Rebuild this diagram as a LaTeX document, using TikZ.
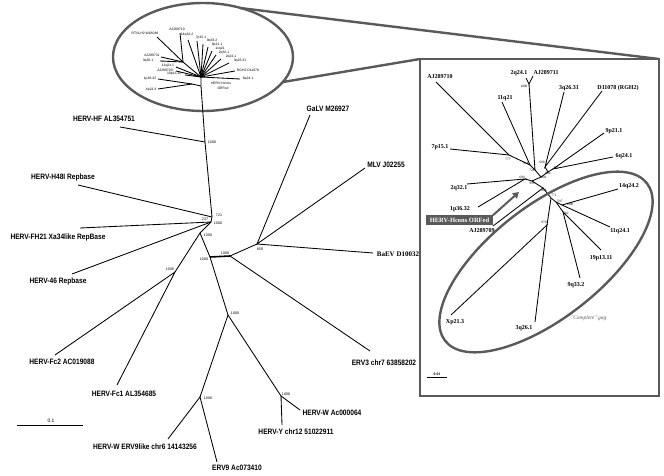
\documentclass[tikz,border=0pt]{standalone}
\usepackage{fontspec}
\newfontfamily\treesf[FakeStretch=0.85]{Liberation Sans}
\newfontfamily\minisf{Liberation Sans}
\newfontfamily\treerm{Liberation Serif}
\usetikzlibrary{%
  arrows.meta,% Triangle tip for the pointer
  calc,%
}
\definecolor{framegray}{HTML}{5A5A5A}
\tikzset{
  branch/.style={line width=0.85pt},
  thickbranch/.style={line width=1.6pt},
  taxon/.style={font=\treesf\bfseries\fontsize{7.8}{9}\selectfont, inner sep=0pt},
  boot/.style={font=\minisf\fontsize{3.6}{4}\selectfont, inner sep=0pt},
  minilab/.style={font=\minisf\fontsize{3.4}{4}\selectfont, inner sep=0pt},
  chrom/.style={font=\treerm\bfseries\fontsize{6}{7}\selectfont, inner sep=0pt},
  iboot/.style={font=\treerm\fontsize{3.4}{4}\selectfont, inner sep=0pt},
  framed/.style={draw=framegray, line width=2.4pt},
  consbox/.style={fill=framegray, text=white, font=\treerm\bfseries\fontsize{6.5}{7}\selectfont,
    inner xsep=3.5pt, inner ysep=2.2pt},
  pointer/.style={draw=framegray, line width=2pt, -{Triangle[length=6pt,width=7pt]}},
}
\begin{document}
\begin{tikzpicture}[x=1pt,y=-1pt]
\useasboundingbox (0,0) rectangle (664,476);

% ---------- zoom frame
\coordinate (zTop) at (240,8);
\coordinate (zSide) at (283,82);
\coordinate (boxNW) at (420,59);
\coordinate (boxNE) at (659,59);
\coordinate (boxSE) at (659,396);
\draw[framed] (203,57) ellipse [x radius=90pt, y radius=54pt];
\draw[framed] (zTop) -- (boxNE);
\draw[framed] (zSide) -- (boxNW);
\draw[framed] (boxNW) rectangle (boxSE);

% ---------- main tree: inner nodes
\coordinate (sRoot) at (201,77);
\coordinate (sTrunk) at (201,86);
\coordinate (nHF) at (205,142);
\coordinate (nA) at (212,217);
\coordinate (nA2) at (211,222);
\coordinate (nB) at (200,233);
\coordinate (nFc) at (175,272);
\coordinate (nC) at (210,257);
\coordinate (nD) at (230,256);
\coordinate (nE) at (257,244);
\coordinate (nF) at (228,315);
\coordinate (nG) at (200,397);
\coordinate (nH) at (281,396);
% tips
\coordinate (tHF) at (120,127);
\coordinate (tH48) at (78,185);
\coordinate (tFH21) at (80,228);
\coordinate (t46) at (72,274);
\coordinate (tFc2) at (55,355);
\coordinate (tFc1) at (117,385);
\coordinate (tW9) at (168,439);
\coordinate (tERV9) at (217,462);
\coordinate (tWAc) at (300,410);
\coordinate (tY) at (282,425);
\coordinate (tERV3) at (370,351);
\coordinate (tGaLV) at (310,115);
\coordinate (tMLV) at (365,168);
\coordinate (tBaEV) at (373,253);

\draw[branch] (sRoot) -- (sTrunk) -- (nHF) -- (nA) -- (nA2) -- (nB) -- (nC);
\draw[branch] (tHF) -- (nHF);
\draw[branch] (tH48) -- (nA);
\draw[branch] (tFH21) -- (nA2);
\draw[branch] (t46) -- (nA2);
\draw[branch] (nB) -- (nFc);
\draw[branch] (tFc2) -- (nFc) -- (tFc1);
\draw[thickbranch] (nC) -- (nD);
\draw[branch] (nD) -- (nE);
\draw[branch] (nD) -- (tERV3);
\draw[branch] (tGaLV) -- (nE) -- (tMLV);
\draw[branch] (nE) -- (tBaEV);
\draw[branch] (nC) -- (nF) -- (nG);
\draw[branch] (nF) -- (nH);
\draw[branch] (tW9) -- (nG) -- (tERV9);
\draw[branch] (tWAc) -- (nH) -- (tY);

% taxa
\node[taxon] (lHF) at (104,119) {HERV-HF AL354751};
\node[taxon] (lH48) at (63,177) {HERV-H48I Repbase};
\node[taxon] (lFH21) at (58,237) {HERV-FH21 Xa34like RepBase};
\node[taxon] (l46) at (58,281) {HERV-46 Repbase};
\node[taxon] (lFc2) at (62,362) {HERV-Fc2 AC019088};
\node[taxon] (lFc1) at (124,394) {HERV-Fc1 AL354685};
\node[taxon] (lW9) at (145,447) {HERV-W ERV9like chr6 14143256};
\node[taxon] (lERV9) at (237,468) {ERV9 Ac073410};
\node[taxon] (lY) at (296,432) {HERV-Y chr12 51022911};
\node[taxon] (lWAc) at (332,413) {HERV-W Ac000064};
\node[taxon] (lERV3) at (384,363) {ERV3 chr7 63858202};
\node[chrom, font=\treerm\bfseries\fontsize{7}{8}\selectfont] (lBaEV) at (398,254) {BaEV D10032};
\node[taxon] (lMLV) at (386,165) {MLV J02255};
\node[taxon] (lGaLV) at (328,109) {GaLV M26927};

% bootstrap values
\node[boot] (bHF) at (212,142) {1000};
\node[boot] (bA) at (219,215) {721};
\node[boot] (bA2) at (205,219) {237};
\node[boot] (bA3) at (218,223) {1000};
\node[boot] (bB) at (208,235) {1000};
\node[boot] (bFc) at (170,269) {1000};
\node[boot] (bC) at (204,259) {1000};
\node[boot] (bD) at (225,253) {1000};
\node[boot] (bE) at (260,249) {850};
\node[boot] (bF) at (235,313) {1000};
\node[boot] (bG) at (208,398) {1000};
\node[boot] (bH) at (286,394) {1000};

% scale bar
\coordinate (sbL) at (17,425);
\coordinate (sbR) at (83,425);
\draw[branch] (sbL) -- (sbR);
\node[font=\minisf\fontsize{5}{6}\selectfont, inner sep=0pt] (sbLab) at (51,421) {0.1};

% ---------- small tree in the ellipse
\coordinate (sLeft) at (183,62);
\coordinate (sLow) at (192,84);
\draw[branch] (sLeft) -- (sRoot);
\draw[branch] (sLow) -- (sTrunk);
\foreach \nm/\x/\y in {RTV/157/37, AJten/180/33, AJeleven/161/57, tqtwosix/160/61}
  \draw[branch] (sLeft) -- (\x,\y) coordinate (m\nm);
\foreach \nm/\x/\y in {a/188/40, b/197/41, c/203/44, d/208/47, e/212/51, f/216/55,
    g/221/59, h/229/63, i/235/71, j/240/79, k/176/67, l/176/71, m/185/75}
  \draw[branch] (sRoot) -- (\x,\y) coordinate (f\nm);
\foreach \nm/\x/\y in {p/158/79, q/158/89}
  \draw[branch] (sLow) -- (\x,\y) coordinate (f\nm);

\node[minilab] (mRTVlab) at (145,33) {RTVLH2 W18048};
\node[minilab] (mAJ10lab) at (177,29) {AJ289710};
\node[minilab] (mAJ11lab) at (152,55) {AJ289711};
\node[minilab] (m3q26lab) at (148,61) {3q26.1};
\node[minilab] (la) at (187,35) {14q24.2};
\node[minilab] (lb) at (201,37.5) {7p15.1};
\node[minilab] (lc) at (212,41) {9q33.2};
\node[minilab] (ld) at (217,45) {9p21.1};
\node[minilab] (le) at (220,49) {11q21};
\node[minilab] (lf) at (224,53) {2q32.1};
\node[minilab] (lg) at (231,57) {2q24.1};
\node[minilab] (lh) at (240,61) {3q26.31};
\node[minilab] (li) at (248,70) {RGH2 D11078};
\node[minilab] (lj) at (248,79) {6q24.1};
\node[minilab] (lk) at (168,66) {11q24.1};
\node[minilab] (ll) at (165,70.5) {AJ289709};
\node[minilab] (lm) at (174,74) {19p13.11};
\node[minilab] (lp) at (150,79) {1p36.32};
\node[minilab] (lq) at (151,90) {Xp21.3};
\node[minilab] (lhc) at (221,83) {HERV-Hcons};
\node[minilab] (lhc2) at (223,88) {ORFed};

% ---------- inset tree
\coordinate (iJ1) at (509,155);
\coordinate (iA1) at (530,165);
\coordinate (iA) at (535,170);
\coordinate (iF) at (529,84);
\coordinate (iB) at (545,167);
\coordinate (iB2) at (548,172);
\coordinate (iB3) at (553,169);
\coordinate (iR) at (541,177);
\coordinate (iC) at (532,181);
\coordinate (iC1) at (525,179);
\coordinate (iD) at (543,188);
\coordinate (iE) at (551,198);
\coordinate (iE2) at (556,202);
\coordinate (iG) at (562,205);
\coordinate (iK) at (563,212);
\coordinate (iL) at (547,225);
% tips
\coordinate (xAJ10) at (436,82);
\coordinate (x2q24) at (526,78);
\coordinate (xAJ11) at (533,76);
\coordinate (x3q2631) at (564,92);
\coordinate (xD11078) at (602,91);
\coordinate (x11q21) at (502,102);
\coordinate (x9p21) at (604,133);
\coordinate (x7p15) at (450,149);
\coordinate (x6q24) at (613,157);
\coordinate (x2q32) at (467,184);
\coordinate (x1p36) at (478,207);
\coordinate (xAJ09) at (493,226);
\coordinate (x14q24) at (618,189);
\coordinate (x11q241) at (610,227);
\coordinate (x19p13) at (601,250);
\coordinate (x9q33) at (580,278);
\coordinate (xXp21) at (451,315);
\coordinate (x3q261) at (535,322);

\draw[branch] (xAJ10) -- (iJ1) -- (iA1) -- (iA) -- (iR);
\draw[branch] (x7p15) -- (iJ1);
\draw[branch] (x11q21) -- (iA1);
\draw[branch] (x2q24) -- (iF) -- (xAJ11);
\draw[branch] (iF) -- (iA);
\draw[branch] (x3q2631) -- (iB) -- (xD11078);
\draw[branch] (iB) -- (iB2) -- (iR);
\draw[branch] (x9p21) -- (iB3) -- (x6q24);
\draw[branch] (iB3) -- (iB2);
\draw[branch] (iR) -- (iC) -- (iC1);
\draw[branch] (x2q32) -- (iC1) -- (x1p36);
\draw[branch] (iC) -- (iD) -- (xAJ09);
\draw[branch] (iD) -- (iE) -- (iE2) -- (iG);
\draw[branch] (x14q24) -- (iG) -- (x11q241);
\draw[branch] (iE2) -- (iK);
\draw[branch] (x19p13) -- (iK) -- (x9q33);
\draw[branch] (iE) -- (iL);
\draw[branch] (xXp21) -- (iL) -- (x3q261);

\node[chrom] (cAJ10) at (440,77) {AJ289710};
\node[chrom] (c2q24) at (519,73) {2q24.1};
\node[chrom] (cAJ11) at (546,73) {AJ289711};
\node[chrom] (c3q2631) at (569,88) {3q26.31};
\node[chrom] (cD11078) at (618,88) {D11078 (RGH2)};
\node[chrom] (c11q21) at (505,98) {11q21};
\node[chrom] (c9p21) at (614,131) {9p21.1};
\node[chrom] (c7p15) at (440,147) {7p15.1};
\node[chrom] (c6q24) at (624,156) {6q24.1};
\node[chrom] (c2q32) at (459,188) {2q32.1};
\node[chrom] (c1p36) at (460,209) {1p36.32};
\node[chrom] (cAJ09) at (482,231) {AJ289709};
\node[chrom] (c14q24) at (629,186) {14q24.2};
\node[chrom] (c11q241) at (620,231) {11q24.1};
\node[chrom] (c19p13) at (601,258) {19p13.11};
\node[chrom] (c9q33) at (576,285) {9q33.2};
\node[chrom] (cXp21) at (455,322) {Xp21.3};
\node[chrom] (c3q261) at (524,328) {3q26.1};

\node[iboot] (ibF) at (524,86) {1000};
\node[iboot] (ibJ1) at (508,159) {777};
\node[iboot] (ibA1) at (526,163) {918};
\node[iboot] (ibA) at (532,170) {728};
\node[iboot] (ibB) at (542,162) {690};
\node[iboot] (ibB2) at (548,173.5) {884};
\node[iboot] (ibB3) at (556,168.5) {777};
\node[iboot] (ibR) at (544,177) {801};
\node[iboot] (ibC1) at (522,177) {690};
\node[iboot] (ibC) at (532,183) {999};
\node[iboot] (ibD) at (544,190) {818};
\node[iboot] (ibE) at (554,195) {771};
\node[iboot] (ibE2) at (560,201) {597};
\node[iboot] (ibG) at (570,204) {1000};
\node[iboot] (ibK) at (566,213) {582};
\node[iboot] (ibL) at (544,222) {970};

% consensus marker and gag ring
\node[consbox] (hcons) at (459.5,220) {HERV-Hcons ORFed};
\coordinate (hconsTip) at (519,192);
\draw[pointer] (hcons.north east) -- (hconsTip);
\draw[framed, rotate around={38:(546,262)}] (546,262) ellipse [x radius=128pt, y radius=56pt];
\node[font=\treerm\itshape\fontsize{5.5}{6}\selectfont, text=framegray, inner sep=0pt] (gag) at (588,318) {``Complete'' gag};

% inset scale bar
\coordinate (isbL) at (427,377);
\coordinate (isbR) at (447,377);
\draw[branch] (isbL) -- (isbR);
\node[iboot, font=\treerm\bfseries\fontsize{3.8}{4}\selectfont] (isbLab) at (437,374) {0.01};
\end{tikzpicture}
\end{document}
